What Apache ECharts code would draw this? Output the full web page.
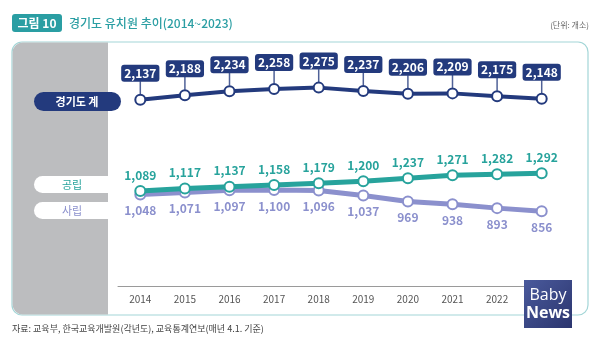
<!DOCTYPE html>
<html><head><meta charset="utf-8">
<script src="https://cdn.jsdelivr.net/npm/echarts@6/dist/echarts.min.js"></script>
<style>html,body{margin:0;padding:0;background:#fff}#c{width:600px;height:344px}</style>
</head><body><div id="c"></div>
<script>
const years = ['2014','2015','2016','2017','2018','2019','2020','2021','2022','2023'];
const totalVals = [2137,2188,2234,2258,2275,2237,2206,2209,2175,2148];
const publicVals = [1089,1117,1137,1158,1179,1200,1237,1271,1282,1292];
const privateVals = [1048,1071,1097,1100,1096,1037,969,938,893,856];

const NAVY = '#233a7d', TEAL = '#27a39c', LAV = '#8b90cd', TITLE = '#2a9ea3';
const F = '"Noto Sans CJK KR", "Noto Sans", sans-serif';
const fmt = v => v.toLocaleString('en-US');

const chart = echarts.init(document.getElementById('c'));
chart.setOption({
  animation: false,
  backgroundColor: '#fff',
  textStyle: { fontFamily: F },
  grid: { left: 118, right: 36, top: 68, bottom: 58 },
  xAxis: {
    type: 'category', data: years, boundaryGap: true,
    axisLine: { lineStyle: { color: '#9a9a9a', width: 1 } },
    axisTick: { show: false },
    axisLabel: { color: '#555', fontSize: 10, margin: 8, fontFamily: F }
  },
  yAxis: { type: 'value', min: 0, max: 2500, show: false, splitLine: { show: false } },
  graphic: [
    { type: 'rect', z: -10, shape: { x: 12, y: 42, width: 576, height: 273, r: 10 },
      style: { fill: '#fff', stroke: '#a3d6d7', lineWidth: 1.2 } },
    { type: 'rect', z: -9, shape: { x: 12.6, y: 42.6, width: 95.4, height: 271.8, r: [10, 0, 0, 10] },
      style: { fill: '#bcbdbf' } },
    { type: 'rect', shape: { x: 12, y: 14, width: 50, height: 18, r: 3 }, style: { fill: TITLE } },
    { type: 'text', x: 37, y: 23, style: { text: '그림 10', fill: '#fff', font: 'bold 12px ' + F, align: 'center', verticalAlign: 'middle' } },
    { type: 'text', x: 69, y: 23, style: { text: '경기도 유치원 추이(2014~2023)', fill: TITLE, font: '500 12px ' + F, verticalAlign: 'middle' } },
    { type: 'text', x: 589, y: 25, style: { text: '(단위: 개소)', fill: '#666', font: '8px ' + F, align: 'right', verticalAlign: 'middle' } },
    { type: 'rect', z: 5, shape: { x: 34, y: 92, width: 87, height: 19, r: 9.5 }, style: { fill: NAVY } },
    { type: 'text', z: 6, x: 77, y: 101.5, style: { text: '경기도 계', fill: '#fff', font: 'bold 11px ' + F, align: 'center', verticalAlign: 'middle' } },
    { type: 'rect', z: 5, shape: { x: 34, y: 176, width: 74, height: 17, r: [8.5, 0, 0, 8.5] }, style: { fill: '#fff' } },
    { type: 'text', z: 6, x: 72, y: 184.5, style: { text: '공립', fill: TEAL, font: '11px ' + F, align: 'center', verticalAlign: 'middle' } },
    { type: 'rect', z: 5, shape: { x: 34, y: 202, width: 74, height: 17, r: [8.5, 0, 0, 8.5] }, style: { fill: '#fff' } },
    { type: 'text', z: 6, x: 72, y: 210.5, style: { text: '사립', fill: LAV, font: '11px ' + F, align: 'center', verticalAlign: 'middle' } },
    { type: 'text', x: 12, y: 329, style: { text: '자료: 교육부, 한국교육개발원(각년도), 교육통계연보(매년 4.1. 기준)', fill: '#444', font: '9px ' + F, verticalAlign: 'middle' } },
    { type: 'rect', z: 20, shape: { x: 524, y: 280, width: 48, height: 48 },
      style: { fill: new echarts.graphic.LinearGradient(0, 0, 1, 1, [{ offset: 0, color: '#4a5a9c' }, { offset: 1, color: '#2b356e' }]) } },
    { type: 'text', z: 21, x: 548, y: 295, style: { text: 'Baby', fill: '#fff', font: '16px "Open Sans", sans-serif', align: 'center', verticalAlign: 'middle' } },
    { type: 'text', z: 21, x: 548, y: 313, style: { text: 'News', fill: '#fff', font: 'bold 16px "Open Sans", sans-serif', align: 'center', verticalAlign: 'middle' } }
  ],
  series: [
    {
      name: 'pointer', type: 'scatter', data: totalVals, z: 1, silent: true,
      symbol: 'rect', symbolSize: [1.5, 13], symbolOffset: [0, -12],
      itemStyle: { color: NAVY }
    },
    {
      name: '경기도 계', type: 'line', data: totalVals, z: 3,
      symbol: 'emptyCircle', symbolSize: 10,
      lineStyle: { color: NAVY, width: 4 },
      itemStyle: { color: NAVY, borderWidth: 3, borderColor: NAVY },
      label: {
        show: true, position: 'top', distance: 12, formatter: p => fmt(p.value),
        color: '#fff', backgroundColor: NAVY, borderRadius: 3, padding: [1, 3, 1, 3],
        fontSize: 12, fontWeight: 'bold', lineHeight: 15, fontFamily: F
      }
    },
    {
      name: '사립', type: 'line', data: privateVals, z: 2,
      symbol: 'emptyCircle', symbolSize: 10,
      lineStyle: { color: LAV, width: 5 },
      itemStyle: { color: LAV, borderWidth: 3, borderColor: LAV },
      label: { show: true, position: 'bottom', distance: 4, formatter: p => fmt(p.value),
        color: LAV, fontSize: 12, fontWeight: 'bold', fontFamily: F }
    },
    {
      name: '공립', type: 'line', data: publicVals, z: 3,
      symbol: 'emptyCircle', symbolSize: 10,
      lineStyle: { color: TEAL, width: 5 },
      itemStyle: { color: TEAL, borderWidth: 3, borderColor: TEAL },
      label: { show: true, position: 'top', distance: 4, formatter: p => fmt(p.value),
        color: TEAL, fontSize: 12, fontWeight: 'bold', fontFamily: F }
    }
  ]
});
</script></body></html>
